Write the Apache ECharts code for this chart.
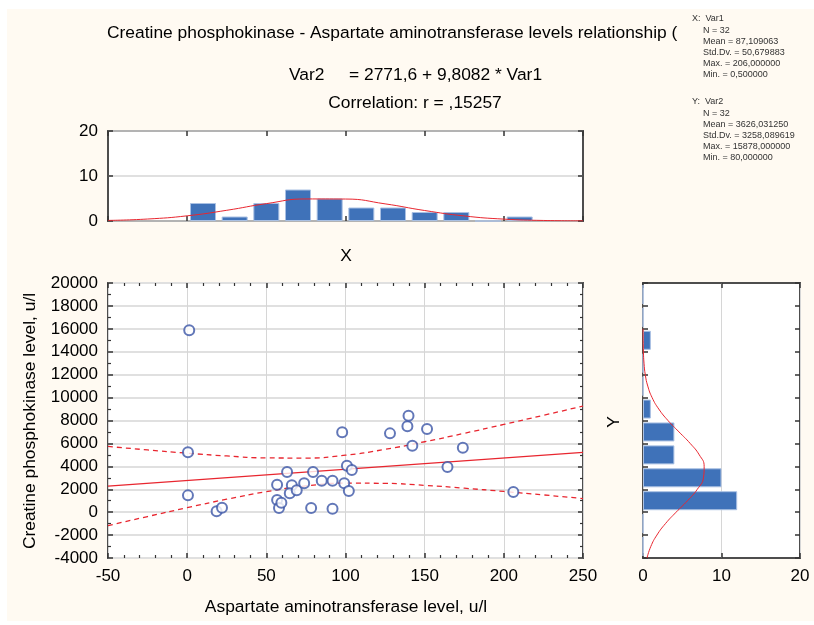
<!DOCTYPE html>
<html>
<head>
<meta charset="utf-8">
<script src="https://cdn.jsdelivr.net/npm/echarts@6/dist/echarts.min.js"></script>
<style>
html,body{margin:0;padding:0;background:#fff;}
#c{width:814px;height:625px;}
</style>
</head>
<body>
<div id="c"></div>
<script>
// ---- data ----
const asX = [1.3,0.5,0.5,18.6,22,56.8,56.8,58,59.5,63.1,66.1,64.8,69.2,73.9,78.3,79.5,85,91.8,91.8,97.9,99.2,100.9,102.1,104,128.1,139.1,139.8,142.2,151.5,164.4,174.1,206];
const ckY = [15878,5219,1466,80,393,2400,1064,366,829,3508,2340,1641,1903,2515,366,3508,2750,2750,305,6965,2515,4058,1850,3683,6877,7488,8422,5804,7261,3945,5629,1763];

const fitX = [-50, 250];
const fitY = [2281, 5224];

const ciX = [-50,-25,0,25,50,75,100,125,150,175,200,225,250];
const ciUpper = [5737,5432,5150,4904,4735,4723,4972,5482,6145,6882,7657,8452,9260];
const ciLower = [-1175,-380,394,1130,1789,2291,2532,2514,2341,2094,1809,1504,1188];

const xBinCenters = [10,30,50,70,90,110,130,150,170,190,210];
const xBinCounts = [4,1,4,7,5,3,3,2,2,0,1];
const xNormX = [-50,-25,0,25,50,75,100,125,150,175,200,225,250];
const xNormCount = [0.13,0.44,1.15,2.38,3.86,4.90,4.88,3.81,2.33,1.12,0.42,0.12,0.03];

const yBinStarts = ['-4000','-2000','0','2000','4000','6000','8000','10000','12000','14000','16000','18000'];
const yBinCounts = [0,0,12,10,4,4,1,0,0,1,0,0];
const yNormY = [-4000,-3000,-2000,-1000,0,1000,2000,3000,4000,5000,6000,7000,8000,9000,10000,11000,12000,13000,14000,15000,16000];
const yNormCount = [0.51,0.99,1.77,2.86,4.22,5.67,6.92,7.70,7.79,7.17,6.01,4.59,3.18,2.01,1.16,0.61,0.29,0.13,0.05,0.02,0.01];

const titleLine1 = 'Creatine phosphokinase - Aspartate aminotransferase levels relationship (';
const eqLeft = 'Var2';
const eqRight = '= 2771,6 + 9,8082 * Var1';
const corrText = 'Correlation: r = ,15257';
const statsX = ['X:  Var1','N = 32','Mean = 87,109063','Std.Dv. = 50,679883','Max. = 206,000000','Min. = 0,500000'];
const statsY = ['Y:  Var2','N = 32','Mean = 3626,031250','Std.Dv. = 3258,089619','Max. = 15878,000000','Min. = 80,000000'];

// ---- styles ----
const FONT = '"Liberation Sans", Arial, sans-serif';
const FS = 17;
const TFS = 17.4;
const RED = '#e8262f';
const BLUE = '#3f72b9';
const CIRC = '#3b55a6';
const AL = {show:false, onZero:false};
const tick = (len) => ({show:true, inside:true, length:len||5, lineStyle:{color:'#333', width:1.5}});
const minor = (n) => ({show:true, splitNumber:n, length:3, lineStyle:{color:'#333', width:1.2}});
const lbl = {show:true, fontFamily:FONT, fontSize:FS, color:'#000', margin:10, formatter:(v)=>String(v)};
const noLbl = {show:false};

const chart = echarts.init(document.getElementById('c'), null, {renderer:'canvas'});

const T = (x,y,text,opt) => Object.assign({type:'text', x:x, y:y, style:Object.assign({text:text, font:TFS+'px '+FONT, fill:'#000', textVerticalAlign:'middle'}, opt||{})});
const graphics = [
  {type:'rect', shape:{x:7,y:9,width:807,height:612}, style:{fill:'#fffaf2'}, z:-10, silent:true},
  T(107,33,titleLine1),
  T(289,75,eqLeft),
  T(349,75,eqRight),
  T(415,103,corrText,{textAlign:'center'}),
  T(346,256,'X',{textAlign:'center'}),
  Object.assign(T(614,422,'Y',{textAlign:'center'}),{rotation:Math.PI/2}),
  Object.assign(T(30,421,'Creatine phosphokinase level, u/l',{textAlign:'center'}),{rotation:Math.PI/2}),
  T(346,607,'Aspartate aminotransferase level, u/l',{textAlign:'center'})
];
statsX.forEach((t,i)=>graphics.push({type:'text', x: i===0?692:703, y:19+i*11.2, style:{text:t, font:'9px '+FONT, fill:'#333', textVerticalAlign:'middle'}}));
statsY.forEach((t,i)=>graphics.push({type:'text', x: i===0?692:703, y:102+i*11.2, style:{text:t, font:'9px '+FONT, fill:'#333', textVerticalAlign:'middle'}}));

const gridStyle = {show:true, backgroundColor:'#fff', borderColor:'#4d4d4d', borderWidth:2, containLabel:false};

const option = {
  animation:false,
  backgroundColor:'#fff',
  graphic:graphics,
  grid:[
    Object.assign({left:108, top:131, width:475, height:90}, gridStyle),
    Object.assign({left:108, top:283, width:475, height:275}, gridStyle),
    Object.assign({left:643, top:283, width:157, height:275}, gridStyle)
  ],
  xAxis:[
    {type:'value', gridIndex:0, min:-50, max:250, interval:50, position:'bottom', axisLine:AL, axisTick:tick(5), axisLabel:noLbl, splitLine:{show:false}},
    {type:'value', gridIndex:0, min:-50, max:250, interval:50, position:'top', axisLine:AL, axisTick:tick(5), axisLabel:noLbl, splitLine:{show:false}},
    {type:'value', gridIndex:1, min:-50, max:250, interval:50, position:'bottom', axisLine:AL, axisTick:tick(5), minorTick:minor(5), axisLabel:lbl, splitLine:{show:true, lineStyle:{color:'#d6d6d6', width:1}}},
    {type:'value', gridIndex:1, min:-50, max:250, interval:50, position:'top', axisLine:AL, axisTick:tick(5), minorTick:minor(5), axisLabel:noLbl, splitLine:{show:false}},
    {type:'value', gridIndex:2, min:0, max:20, interval:10, position:'bottom', axisLine:AL, axisTick:tick(5), axisLabel:lbl, splitLine:{show:true, lineStyle:{color:'#d6d6d6', width:1}}},
    {type:'value', gridIndex:2, min:0, max:20, interval:10, position:'top', axisLine:AL, axisTick:tick(5), axisLabel:noLbl, splitLine:{show:false}}
  ],
  yAxis:[
    {type:'value', gridIndex:0, min:0, max:20, interval:10, position:'left', axisLine:AL, axisTick:tick(5), axisLabel:lbl, splitLine:{show:true, lineStyle:{color:'#d6d6d6', width:1.5}}},
    {type:'value', gridIndex:0, min:0, max:20, interval:10, position:'right', axisLine:AL, axisTick:tick(5), axisLabel:noLbl, splitLine:{show:false}},
    {type:'value', gridIndex:1, min:-4000, max:20000, interval:2000, position:'left', axisLine:AL, axisTick:tick(5), minorTick:minor(2), axisLabel:lbl, splitLine:{show:true, lineStyle:{color:'#e0e0e0', width:2}}},
    {type:'value', gridIndex:1, min:-4000, max:20000, interval:2000, position:'right', axisLine:AL, axisTick:tick(5), minorTick:minor(2), axisLabel:noLbl, splitLine:{show:false}},
    {type:'category', gridIndex:2, data:yBinStarts, position:'left', axisLine:AL, axisTick:{show:true, inside:true, length:5, lineStyle:{color:'#333', width:1.5}}, axisLabel:noLbl, splitLine:{show:false}},
    {type:'value', gridIndex:2, min:-4000, max:20000, interval:2000, position:'right', axisLine:AL, axisTick:tick(5), axisLabel:noLbl, splitLine:{show:false}}
  ],
  series:[
    {type:'bar', xAxisIndex:0, yAxisIndex:0, barWidth:26,
      data:xBinCenters.map((c,i)=>[c, xBinCounts[i]]),
      itemStyle:{color:BLUE, borderColor:'#a9c0e3', borderWidth:1}, silent:true},
    {type:'line', xAxisIndex:0, yAxisIndex:0, smooth:true, symbol:'none',
      data:xNormX.map((x,i)=>[x, xNormCount[i]]), lineStyle:{color:RED, width:1}, silent:true},
    {type:'scatter', xAxisIndex:2, yAxisIndex:2, symbol:'emptyCircle', symbolSize:10,
      data:asX.map((x,i)=>[x, ckY[i]]), itemStyle:{color:CIRC, borderColor:CIRC, borderWidth:1.2}, z:5, silent:true},
    {type:'line', xAxisIndex:2, yAxisIndex:2, symbol:'none',
      data:fitX.map((x,i)=>[x, fitY[i]]), lineStyle:{color:RED, width:1.3}, silent:true},
    {type:'line', xAxisIndex:2, yAxisIndex:2, symbol:'none', smooth:true,
      data:ciX.map((x,i)=>[x, ciUpper[i]]), lineStyle:{color:RED, width:1.3, type:[5,4]}, silent:true},
    {type:'line', xAxisIndex:2, yAxisIndex:2, symbol:'none', smooth:true,
      data:ciX.map((x,i)=>[x, ciLower[i]]), lineStyle:{color:RED, width:1.3, type:[5,4]}, silent:true},
    {type:'bar', xAxisIndex:4, yAxisIndex:4, barWidth:19,
      data:yBinCounts, itemStyle:{color:BLUE, borderColor:'#a9c0e3', borderWidth:1}, silent:true},
    {type:'line', xAxisIndex:4, yAxisIndex:5, smooth:true, symbol:'none',
      data:yNormY.map((y,i)=>[yNormCount[i], y]), lineStyle:{color:RED, width:1}, silent:true}
  ]
};
chart.setOption(option);
</script>
</body>
</html>
